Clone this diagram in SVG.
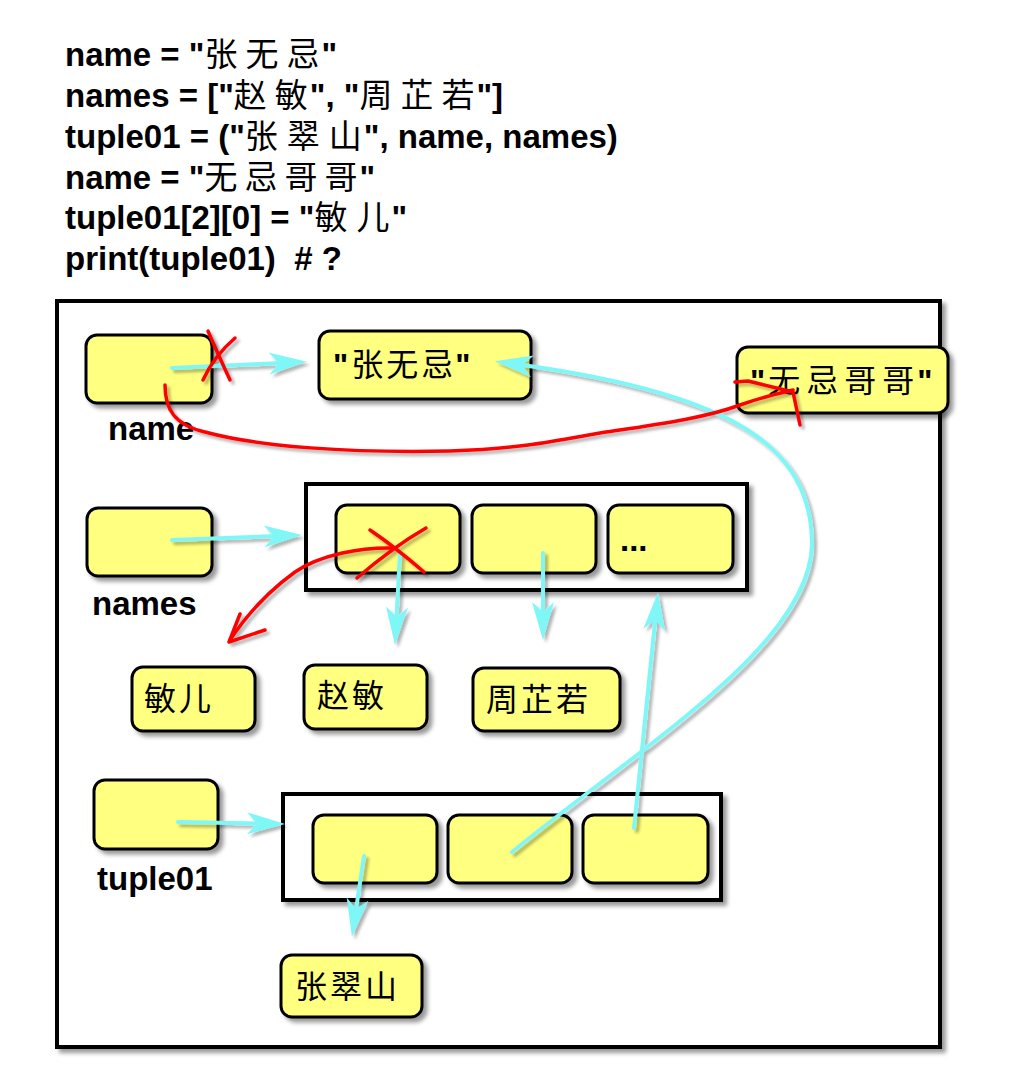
<svg xmlns="http://www.w3.org/2000/svg" width="1010" height="1080" viewBox="0 0 1010 1080">
  <defs>
    <filter id="shadow" x="-20%" y="-20%" width="140%" height="140%">
      <feDropShadow dx="4" dy="4" stdDeviation="2" flood-color="#000" flood-opacity="0.4"/>
    </filter>
    <filter id="lineShadow" x="-20%" y="-20%" width="140%" height="140%">
      <feDropShadow dx="3" dy="3" stdDeviation="1.5" flood-color="#000" flood-opacity="0.3"/>
    </filter>
    <marker id="stealth" viewBox="-2 -13 44 26" refX="12" refY="0" markerUnits="userSpaceOnUse" markerWidth="44" markerHeight="26" orient="auto" overflow="visible">
      <path d="M0,-11 L38,0 L0,11 L10,0 Z" fill="#7ff7f7"/>
    </marker>
  </defs>
  <style>
    .code { font-family: "Liberation Sans", Arial, sans-serif; font-weight: bold; font-size: 33px; fill: #000; white-space: pre; }
    .cjk { font-family: "Noto Sans CJK SC", sans-serif; font-weight: normal; }
    .frame { fill: #fff; stroke: #000; stroke-width: 4; filter: url(#shadow); }
    .box { fill: #ffff80; stroke: #000; stroke-width: 3; filter: url(#shadow); }
    .val { font-family: "Noto Sans CJK SC", sans-serif; font-size: 32px; fill: #000; }
    .q { font-family: "Liberation Sans", Arial, sans-serif; font-weight: bold; }
    .label { font-family: "Liberation Sans", Arial, sans-serif; font-weight: bold; font-size: 33px; fill: #000; }
    .ref { fill: none; stroke: #7ff7f7; stroke-width: 4; stroke-linecap: round; marker-end: url(#stealth); }
    .mark { fill: none; stroke: #ff0000; stroke-width: 3.5; stroke-linecap: round; stroke-linejoin: round; }
  </style>

  <!-- source code -->
  <g id="code">
    <text class="code" x="65" y="66">name = "<tspan class="cjk" dx="0 8 8">张无忌</tspan><tspan dx="2">"</tspan></text>
    <text class="code" x="65" y="107">names = ["<tspan class="cjk" dx="0 8">赵敏</tspan><tspan dx="2">", "</tspan><tspan class="cjk" dx="0 8 8">周芷若</tspan><tspan dx="2">"]</tspan></text>
    <text class="code" x="65" y="148">tuple01 = ("<tspan class="cjk" dx="0 9 9">张翠山</tspan><tspan dx="2">", name, names)</tspan></text>
    <text class="code" x="65" y="189">name = "<tspan class="cjk" dx="0 7 7 7">无忌哥哥</tspan><tspan dx="2">"</tspan></text>
    <text class="code" x="65" y="229">tuple01[2][0] = "<tspan class="cjk" dx="0 9">敏儿</tspan><tspan dx="2">"</tspan></text>
    <text class="code" x="65" y="270" xml:space="preserve">print(tuple01)  # ?</text>
  </g>

  <!-- memory area -->
  <rect id="memory" class="frame" x="57" y="301" width="883" height="746"/>

  <!-- variable: name -->
  <g id="var-name">
    <rect class="box" x="86" y="335" width="126" height="68" rx="11"/>
    <text class="label" x="108" y="440">name</text>
  </g>

  <g id="str-zhangwuji">
    <rect class="box" x="319" y="331" width="212" height="68" rx="11"/>
    <text class="val" x="333" y="376"><tspan class="q">"</tspan><tspan dx="3 3 3">张无忌</tspan><tspan class="q" dx="2">"</tspan></text>
  </g>

  <g id="str-wujigege">
    <rect class="box" x="737" y="347" width="211" height="66" rx="11"/>
    <text class="val" x="750" y="392"><tspan class="q">"</tspan><tspan dx="3 6 6 6">无忌哥哥</tspan><tspan class="q" dx="3">"</tspan></text>
  </g>

  <!-- variable: names and its list -->
  <g id="var-names">
    <rect class="box" x="87" y="508" width="125" height="68" rx="11"/>
    <text class="label" x="92" y="615">names</text>
  </g>

  <g id="list-names">
    <rect class="frame" x="306" y="484" width="441" height="106"/>
    <rect class="box" x="336" y="505" width="124" height="68" rx="11"/>
    <rect class="box" x="472" y="505" width="124" height="68" rx="11"/>
    <rect class="box" x="608" y="505" width="125" height="68" rx="11"/>
    <text class="label" x="620" y="551" font-size="30">...</text>
  </g>

  <g id="str-miner">
    <rect class="box" x="132" y="667" width="123" height="64" rx="11"/>
    <text class="val" x="144" y="710" letter-spacing="3">敏儿</text>
  </g>

  <g id="str-zhaomin">
    <rect class="box" x="304" y="665" width="123" height="64" rx="11"/>
    <text class="val" x="317" y="707" letter-spacing="3">赵敏</text>
  </g>

  <g id="str-zhouzhiruo">
    <rect class="box" x="473" y="668" width="147" height="63" rx="11"/>
    <text class="val" x="486" y="711" letter-spacing="3">周芷若</text>
  </g>

  <!-- variable: tuple01 and its tuple -->
  <g id="var-tuple01">
    <rect class="box" x="94" y="780" width="124" height="69" rx="11"/>
    <text class="label" x="97" y="890">tuple01</text>
  </g>

  <g id="tuple">
    <rect class="frame" x="283" y="794" width="438" height="106"/>
    <rect class="box" x="313" y="815" width="124" height="68" rx="11"/>
    <rect class="box" x="448" y="815" width="124" height="68" rx="11"/>
    <rect class="box" x="583" y="815" width="125" height="68" rx="11"/>
  </g>

  <g id="str-zhangcuishan">
    <rect class="box" x="281" y="955" width="141" height="62" rx="11"/>
    <text class="val" x="295" y="998" letter-spacing="3">张翠山</text>
  </g>

  <!-- references -->
  <g id="connectors" filter="url(#lineShadow)">
    <path class="ref" d="M172,368 L281,363"/>
    <path class="ref" d="M172,540 L276,536"/>
    <path class="ref" d="M400,553 L396.4,619"/>
    <path class="ref" d="M543,553 L543,614"/>
    <path class="ref" d="M634,828 L655.4,618"/>
    <path class="ref" d="M512,852 C650,740 815,640 812,540 C809,450 740,395 520.5,364.7"/>
    <path class="ref" d="M178,822 L259,823.5"/>
    <path class="ref" d="M364,856 L355.8,911"/>

    <!-- reassignment of name -->
    <path class="mark" d="M208,331 Q217,352 230,380"/>
    <path class="mark" d="M235,338 Q214,356 203,380"/>
    <path class="mark" d="M165,385 C165,410 175,425 205,432 C260,447 350,453 450,451 C520,449 560,440 600,433 C660,424 705,418 740,405 C760,398 775,394 793,390"/>
    <path class="mark" d="M735,382 L748,381 L793,392 L800,425"/>

    <!-- item assignment in names -->
    <path class="mark" d="M370,530 Q395,547 424,572"/>
    <path class="mark" d="M426,528 Q393,547 357,578"/>
    <path class="mark" d="M395,548 C360,547 320,555 295,572 C270,590 250,610 230,640"/>
    <path class="mark" d="M240,614 L229,642 L265,630"/>
  </g>
</svg>
